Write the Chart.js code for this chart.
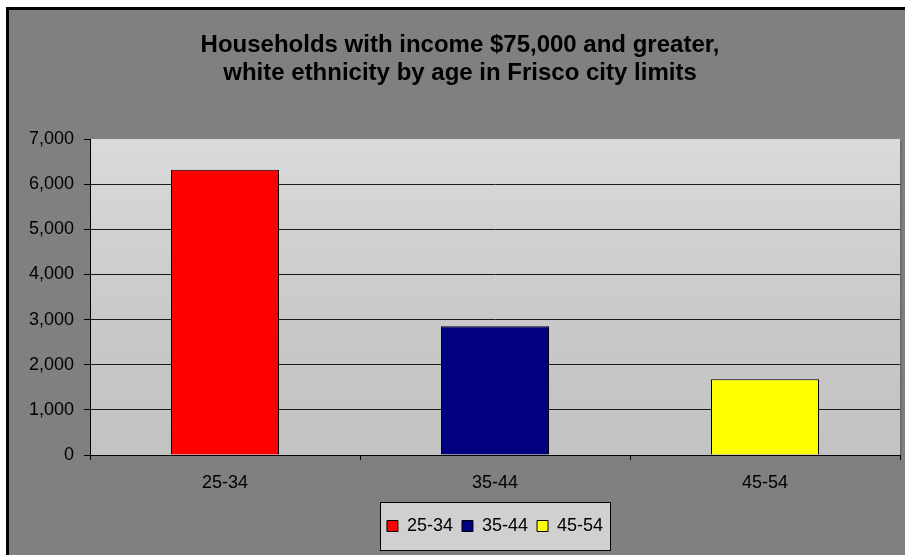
<!DOCTYPE html>
<html>
<head>
<meta charset="utf-8">
<script src="https://cdn.jsdelivr.net/npm/chart.js@4/dist/chart.umd.min.js"></script>
<style>
  body { margin: 0; background: #fff; }
</style>
</head>
<body>
<canvas id="myChart" width="905" height="555"></canvas>
<script>
let ageGroups = ["25-34", "35-44", "45-54"]
let households = [6320, 2850, 1680]
let barColors = ["#ff0000", "#000080", "#ffff00"]
let titleLines = ["Households with income $75,000 and greater,", "white ethnicity by age in Frisco city limits"]
let yMin = 0
let yMax = 7000
let yStep = 1000

let fontName = "'Liberation Sans', Arial, sans-serif"

// grey frame, shaded plot area and the box behind the legend
const backdrop = {
  id: "backdrop",
  afterLayout(chart) {
    // center the legend under the plot area instead of the whole canvas
    let lg = chart.legend
    let a = chart.chartArea
    lg.left = a.left
    lg.right = a.right
    lg.width = a.right - a.left
  },
  beforeDraw(chart) {
    let c = chart.ctx
    let a = chart.chartArea
    c.save()
    c.fillStyle = "#ffffff"
    c.fillRect(0, 0, chart.width, chart.height)
    c.fillStyle = "#000000"
    c.fillRect(6, 7, chart.width - 6, chart.height - 7)
    c.fillStyle = "#808080"
    c.fillRect(9, 10, chart.width - 9, chart.height - 10)

    let grad = c.createLinearGradient(0, a.top, 0, a.bottom)
    grad.addColorStop(0, "#dadada")
    grad.addColorStop(0.6, "#c8c8c8")
    grad.addColorStop(1, "#c2c2c2")
    c.fillStyle = grad
    c.fillRect(a.left, a.top, a.right - a.left, a.bottom - a.top)
    c.fillStyle = "#6e6e6e"
    c.fillRect(a.right, a.top + 2, 2, a.bottom - a.top - 2)

    let boxes = chart.legend.legendHitBoxes
    if (boxes && boxes.length) {
      let first = boxes[0]
      let last = boxes[boxes.length - 1]
      let x0 = Math.round(first.left - 7)
      let x1 = Math.round(last.left + last.width + 7)
      let mid = Math.round(first.top + first.height / 2)
      c.fillStyle = "#d0d0d0"
      c.fillRect(x0, mid - 24, x1 - x0, 48)
      c.strokeStyle = "#000000"
      c.lineWidth = 1
      c.strokeRect(x0 + 0.5, mid - 24 + 0.5, x1 - x0, 48)
    }
    c.restore()
  }
}

const ctx = document.getElementById("myChart").getContext("2d")
const myChart = new Chart(ctx, {
  type: "bar",
  data: {
    labels: ageGroups,
    datasets: [{
      label: "Households",
      data: households,
      backgroundColor: barColors,
      borderColor: "#000000",
      borderWidth: 1,
      barPercentage: 0.4,
      categoryPercentage: 1
    }]
  },
  options: {
    responsive: false,
    animation: false,
    devicePixelRatio: 1,
    layout: { padding: { left: 20, right: 5, top: 0, bottom: 10 } },
    plugins: {
      title: {
        display: true,
        text: titleLines,
        color: "#000000",
        font: { family: fontName, size: 24, weight: "bold", lineHeight: "28px" },
        padding: { top: 31, bottom: 52 }
      },
      legend: {
        position: "bottom",
        labels: {
          boxWidth: 11,
          boxHeight: 11,
          padding: 9,
          color: "#000000",
          font: { family: fontName, size: 18 },
          generateLabels: (chart) => ageGroups.map((g, i) => ({
            text: g,
            fillStyle: barColors[i],
            strokeStyle: "#000000",
            lineWidth: 1,
            fontColor: "#000000",
            hidden: false,
            index: i,
            datasetIndex: 0
          }))
        }
      },
      tooltip: { enabled: false }
    },
    scales: {
      x: {
        grid: { offset: true, drawOnChartArea: false, tickLength: 5, color: "#000000" },
        border: { color: "#000000" },
        ticks: { color: "#000000", font: { family: fontName, size: 18 }, padding: 12 },
        afterFit: (s) => { s.height = 53 }
      },
      y: {
        min: yMin,
        max: yMax,
        ticks: { stepSize: yStep, color: "#000000", font: { family: fontName, size: 18 }, padding: 10 },
        grid: {
          color: (g) => (g.tick && g.tick.value === yMax) ? "rgba(0,0,0,0)" : "#1a1a1a",
          tickColor: "#000000",
          tickLength: 6
        },
        border: { color: "#000000" },
        afterFit: (s) => { s.width = 70 }
      }
    }
  },
  plugins: [backdrop]
})
</script>
</body>
</html>
